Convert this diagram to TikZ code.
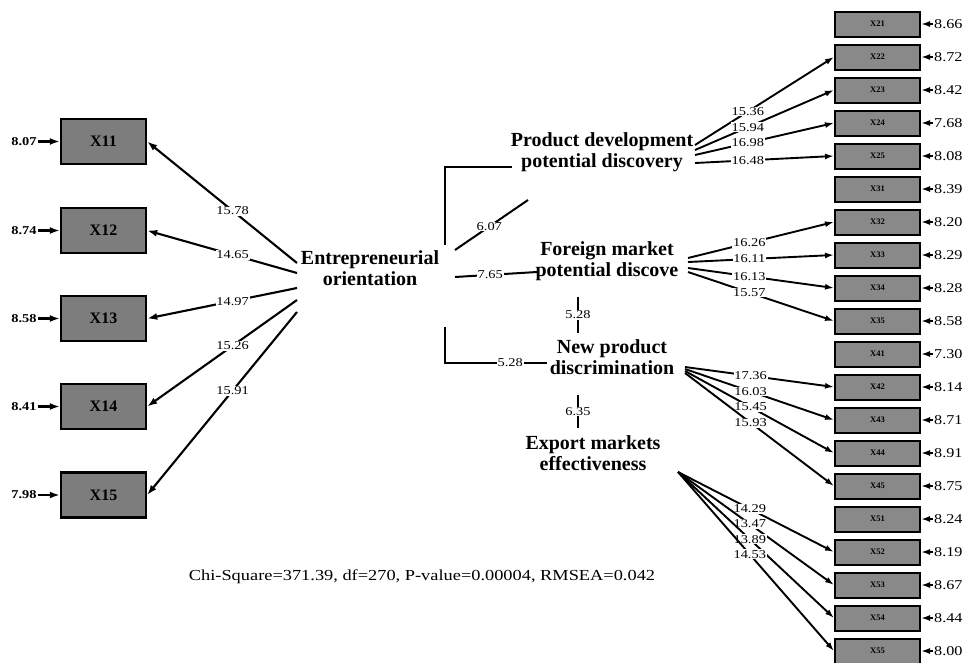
\documentclass[tikz,border=0pt]{standalone}
\usepackage{fontspec}
\setmainfont{Liberation Serif}
\newfontfamily\heavyfont{Liberation Serif Bold}
\newfontfamily\numfont[FakeStretch=1.2]{Liberation Serif}
\usetikzlibrary{arrows.meta,calc}
\definecolor{boxgray}{HTML}{7D7D7D}
\definecolor{rboxgray}{HTML}{898989}
\begin{document}
\begin{tikzpicture}[x=1pt,y=-1pt,
  lbox/.style={draw=black,line width=2.4pt,fill=boxgray,minimum width=85pt,minimum height=45pt,inner sep=0pt,font=\fontsize{16}{16}\selectfont\bfseries},
  rbox/.style={draw=black,line width=2pt,fill=rboxgray,minimum width=85pt,minimum height=25pt,inner sep=0pt,font=\fontsize{8.5}{8.5}\selectfont\bfseries},
  latent/.style={align=center,inner sep=0pt,font=\heavyfont\fontsize{20}{21}\selectfont},
  coef/.style={fill=white,inner sep=0.8pt,font=\numfont\fontsize{12}{12}\selectfont},
  lerr/.style={inner sep=1pt,font=\numfont\bfseries\fontsize{12}{12}\selectfont},
  rerr/.style={inner sep=1pt,font=\numfont\fontsize{13.5}{13.5}\selectfont},
  larrow/.style={line width=2.1pt,-{Latex[length=10pt,width=7pt]}},
  rarrow/.style={line width=1.9pt,-{Latex[length=9pt,width=6pt]}},
  link/.style={line width=2pt},
]
\useasboundingbox (0,0) rectangle (972,662);

% latent variables
\node[latent] (eo) at (370,268) {Entrepreneurial\\orientation};
\node[latent] (pd) at (602,152) {Product development\\potential discovery};
\node[latent] (fm) at (607,261) {Foreign market\\potential discove};
\node[latent] (np) at (612,357) {New product\\discrimination};
\node[latent] (em) at (593,453) {Export markets\\effectiveness};

% left indicators
\foreach \n/\y/\e/\c/\sy [count=\i] in {X11/141.5/8.07/15.78/263, X12/230.5/8.74/14.65/273, X13/318.5/8.58/14.97/288, X14/406.5/8.41/15.26/300, X15/495/7.98/15.91/312}{
  \node[lbox] (l\i) at (103.5,\y) {\n};
  \node[lerr] (le\i) at (24,\y) {\e};
  \draw[larrow] (le\i) -- (l\i);
  \coordinate (eo\i) at (297,\sy);
  \draw[larrow] (eo\i) -- node[coef,pos=0.43]{\c} (l\i.east);
}

% right indicators
\foreach \n/\e [count=\i from 0] in {X21/8.66, X22/8.72, X23/8.42, X24/7.68, X25/8.08, X31/8.39, X32/8.20, X33/8.29, X34/8.28, X35/8.58, X41/7.30, X42/8.14, X43/8.71, X44/8.91, X45/8.75, X51/8.24, X52/8.19, X53/8.67, X54/8.44, X55/8.00}{
  \node[rbox] (\n) at (877.5,{24+33*\i}) {\n};
  \node[rerr,anchor=west] (e\n) at (933,{24+33*\i}) {\e};
  \draw[rarrow] (e\n) -- (\n);
}

% loadings right
\foreach \t/\sx/\sy/\c/\p [count=\i] in {
  X22/695/145/15.36/0.38, X23/695/150/15.94/0.38, X24/695/155/16.98/0.38, X25/695/163/16.48/0.38,
  X32/688/258/16.26/0.42, X33/688/262/16.11/0.42, X34/688/268/16.13/0.42, X35/688/272/15.57/0.42,
  X42/685/367/17.36/0.44, X43/685/369/16.03/0.44, X44/685/371/15.45/0.44, X45/685/373/15.93/0.44,
  X52/678/472/14.29/0.46, X53/678/472/13.47/0.46, X54/678/472/13.89/0.46, X55/678/472/14.53/0.46}{
  \coordinate (s\i) at (\sx,\sy);
  \draw[rarrow] (s\i) -- node[coef,pos=\p]{\c} (\t.west);
}

% structural links
\coordinate (eob1) at (445,245);
\coordinate (pdin1) at (512,167);
\draw[link] (eob1) |- (pdin1);
\coordinate (eoa) at (455,250);
\coordinate (pda) at (528,200);
\draw[link] (eoa) -- node[coef,pos=0.47]{6.07} (pda);
\coordinate (eoc) at (455,277);
\coordinate (fma) at (537,272);
\draw[link] (eoc) -- node[coef,pos=0.43]{7.65} (fma);
\coordinate (fmb) at (578,297);
\coordinate (npa) at (578,333);
\draw[line width=1.4pt] (fmb) -- node[coef]{5.28} (npa);
\coordinate (eod) at (445,327);
\coordinate (npb) at (547,363);
\draw[link] (eod) |- node[coef,pos=0.82]{5.28} (npb);
\coordinate (npc) at (578,395);
\coordinate (ema) at (578,428);
\draw[line width=1.4pt] (npc) -- node[coef]{6.35} (ema);

% fit statistics
\node[font=\numfont\fontsize{15.3}{15.3}\selectfont] (fit) at (422,577) {Chi-Square=371.39, df=270, P-value=0.00004, RMSEA=0.042};
\end{tikzpicture}
\end{document}
